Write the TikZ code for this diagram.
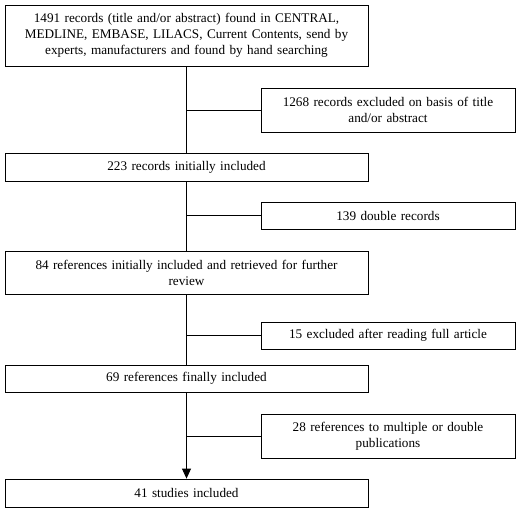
\documentclass[tikz,border=0pt]{standalone}
\usepackage{fontspec}
\setmainfont{Liberation Serif}
\usetikzlibrary{positioning,arrows.meta}

\tikzset{
  mainbox/.style={draw, line width=0.8pt, text width=355pt, align=center,
    inner sep=4pt, font=\fontsize{13.2}{16}\selectfont},
  sidebox/.style={mainbox, text width=246pt},
}

\begin{document}
\begin{tikzpicture}[x=1pt,y=-1pt,line width=0.8pt,>={Triangle[length=10pt,width=9pt]}]
\useasboundingbox (0,0) rectangle (520,511);
\node[mainbox, minimum height=61pt] (src) at (186.5,35.5)
  {1491 records (title and/or abstract) found in CENTRAL,\\ MEDLINE, EMBASE, LILACS, Current Contents, send by\\ experts, manufacturers and found by hand searching};
\node[sidebox, minimum height=44pt] (excl1) at (388,110)
  {1268 records excluded on basis of title\\ and/or abstract};
\node[mainbox, minimum height=28pt] (incl1) at (186.5,167) {223 records initially included};
\node[sidebox, minimum height=27pt] (dbl) at (388,215.5) {139 double records};
\node[mainbox, minimum height=43pt] (refs) at (186.5,272.5)
  {84 references initially included and retrieved for further\\ review};
\node[sidebox, minimum height=27pt] (excl2) at (388,335.5) {15 excluded after reading full article};
\node[mainbox, minimum height=27pt] (fin) at (186.5,378.5) {69 references finally included};
\node[sidebox, minimum height=44pt] (multi) at (388,436)
  {28 references to multiple or double\\ publications};
\node[mainbox, minimum height=28pt] (studies) at (186.5,493) {41 studies included};
% trunk
\draw (src) -- (incl1);
\draw (incl1) -- (refs);
\draw (refs) -- (fin);
\draw[->] (fin) -- (studies);
% exclusions
\draw (excl1.west) -- (excl1.west -| src.south);
\draw (dbl.west) -- (dbl.west -| src.south);
\draw (excl2.west) -- (excl2.west -| src.south);
\draw (multi.west) -- (multi.west -| src.south);
\end{tikzpicture}
\end{document}
